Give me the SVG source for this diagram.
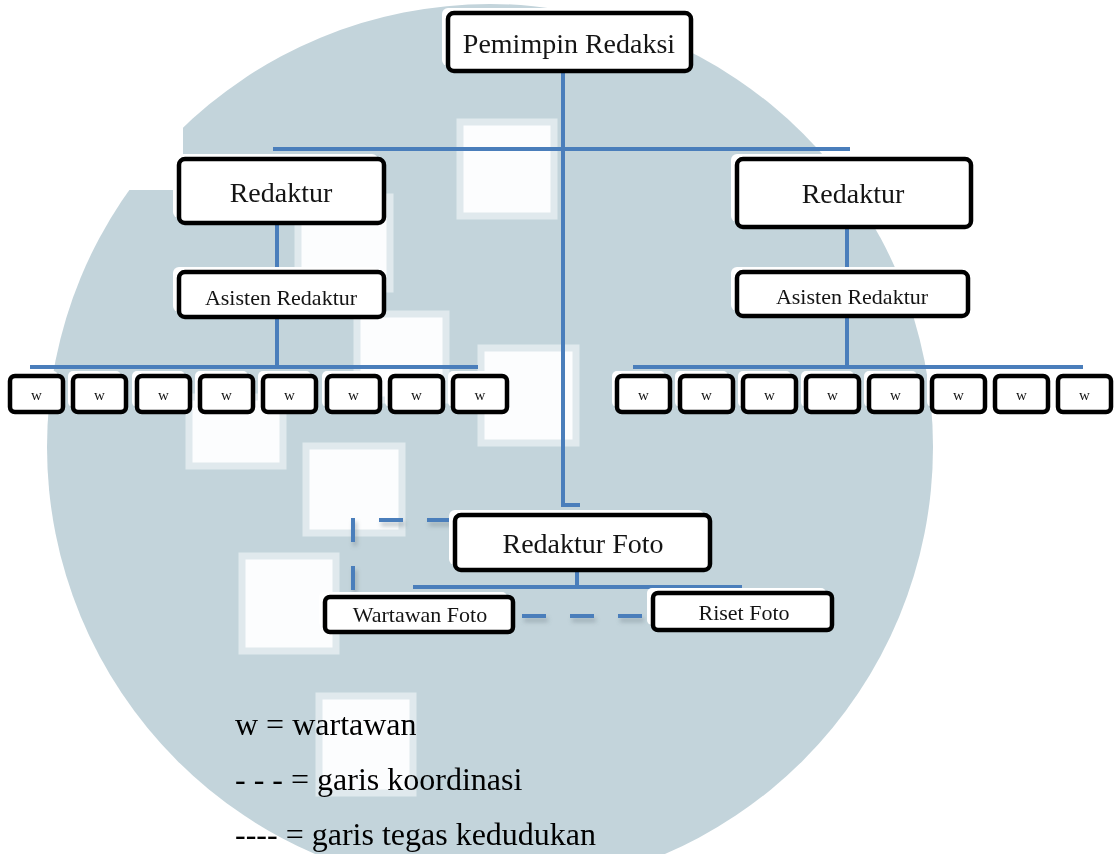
<svg xmlns="http://www.w3.org/2000/svg" width="1114" height="854" viewBox="0 0 1114 854">
<style>
.bg{fill:#c3d4db}
.sq{fill:#fcfdfe;stroke:#e0e9ed;stroke-width:7}
.conn{fill:none;stroke:#4a7ebb;stroke-width:4;stroke-linecap:butt}
.dash{fill:none;stroke:#4a7ebb;stroke-width:4;stroke-dasharray:24 24}
.dsh{fill:none;stroke:#6f7f88;stroke-width:4;stroke-dasharray:24 24;opacity:0.45}
.back{fill:#ffffff}
.box{fill:#ffffff;stroke:#000000;stroke-width:4.5}
.t{font-family:"Liberation Serif","Times New Roman",serif;fill:#141414;text-anchor:middle}
.big{font-size:28px}
.mid{font-size:22px}
.sm{font-size:15px}
.leg{font-family:"Liberation Serif","Times New Roman",serif;font-size:32px;fill:#000000}
</style>
<defs>
<filter id="blur" x="-20%" y="-20%" width="140%" height="140%"><feGaussianBlur stdDeviation="2"/></filter>
</defs>
<rect x="0" y="0" width="1114" height="854" fill="#ffffff"/>
<g id="watermark">
<circle class="bg" cx="490" cy="447" r="443"/>
<rect x="120" y="100" width="63" height="90" fill="#ffffff"/>
<rect class="sq" x="460" y="122" width="94" height="94"/>
<rect class="sq" x="298" y="197" width="92" height="92"/>
<rect class="sq" x="357" y="314" width="89" height="86"/>
<rect class="sq" x="481" y="348" width="95" height="95"/>
<rect class="sq" x="189" y="397" width="94" height="69"/>
<rect class="sq" x="306" y="446" width="96" height="87"/>
<rect class="sq" x="242" y="556" width="94" height="95"/>
<rect class="sq" x="319" y="696" width="94" height="97"/>
</g>
<g id="connectors">
<path class="conn" d="M 563 72 V 505 H 580"/>
<path class="conn" d="M 273 149 H 850"/>
<path class="conn" d="M 277 223 V 272 M 277 317 V 367 M 30 367 H 478"/>
<path class="conn" d="M 847 227 V 272 M 847 315 V 367 M 633 367 H 1083"/>
<path class="conn" d="M 577 570 V 587 M 413 587 H 742"/>
<g filter="url(#blur)">
<path class="dsh" d="M 453 524 H 355 V 598"/>
<path class="dsh" d="M 524 620 H 645"/>
</g>
<path class="dash" d="M 451 520 H 353 V 594"/>
<path class="dash" d="M 522 616 H 643"/>
</g>
<g id="pemimpin-redaksi">
<rect class="back" x="442" y="8" width="243" height="58" rx="6"/>
<rect class="box" x="448" y="13" width="243" height="58" rx="6"/>
<text class="t big" x="569" y="53">Pemimpin Redaksi</text>
</g>
<g id="redaktur-kiri">
<rect class="back" x="173" y="154" width="205" height="64" rx="6"/>
<rect class="box" x="179" y="159" width="205" height="64" rx="6"/>
<text class="t big" x="281" y="202">Redaktur</text>
</g>
<g id="asisten-kiri">
<rect class="back" x="173" y="267" width="205" height="45" rx="6"/>
<rect class="box" x="179" y="272" width="205" height="45" rx="6"/>
<text class="t mid" x="281" y="305">Asisten Redaktur</text>
</g>
<g id="redaktur-kanan">
<rect class="back" x="731" y="154" width="235" height="68" rx="6"/>
<rect class="box" x="737" y="159" width="234" height="68" rx="6"/>
<text class="t big" x="853" y="203">Redaktur</text>
</g>
<g id="asisten-kanan">
<rect class="back" x="731" y="267" width="231" height="44" rx="6"/>
<rect class="box" x="737" y="272" width="231" height="44" rx="6"/>
<text class="t mid" x="852" y="304">Asisten Redaktur</text>
</g>
<g id="wartawan-kiri">
<g id="wk1"><rect class="back" x="5" y="371" width="53" height="36" rx="5"/><rect class="box" x="10" y="376" width="53" height="36" rx="5"/><text class="t sm" x="36.5" y="400">w</text></g>
<g id="wk2"><rect class="back" x="68" y="371" width="53" height="36" rx="5"/><rect class="box" x="73" y="376" width="53" height="36" rx="5"/><text class="t sm" x="99.5" y="400">w</text></g>
<g id="wk3"><rect class="back" x="132" y="371" width="53" height="36" rx="5"/><rect class="box" x="137" y="376" width="53" height="36" rx="5"/><text class="t sm" x="163.5" y="400">w</text></g>
<g id="wk4"><rect class="back" x="195" y="371" width="53" height="36" rx="5"/><rect class="box" x="200" y="376" width="53" height="36" rx="5"/><text class="t sm" x="226.5" y="400">w</text></g>
<g id="wk5"><rect class="back" x="258" y="371" width="53" height="36" rx="5"/><rect class="box" x="263" y="376" width="53" height="36" rx="5"/><text class="t sm" x="289.5" y="400">w</text></g>
<g id="wk6"><rect class="back" x="322" y="371" width="53" height="36" rx="5"/><rect class="box" x="327" y="376" width="53" height="36" rx="5"/><text class="t sm" x="353.5" y="400">w</text></g>
<g id="wk7"><rect class="back" x="385" y="371" width="53" height="36" rx="5"/><rect class="box" x="390" y="376" width="53" height="36" rx="5"/><text class="t sm" x="416.5" y="400">w</text></g>
<g id="wk8"><rect class="back" x="448" y="371" width="53" height="36" rx="5"/><rect class="box" x="453" y="376" width="54" height="36" rx="5"/><text class="t sm" x="480" y="400">w</text></g>
</g>
<g id="wartawan-kanan">
<g id="wn1"><rect class="back" x="612" y="371" width="53" height="36" rx="5"/><rect class="box" x="617" y="376" width="53" height="36" rx="5"/><text class="t sm" x="643.5" y="400">w</text></g>
<g id="wn2"><rect class="back" x="675" y="371" width="53" height="36" rx="5"/><rect class="box" x="680" y="376" width="53" height="36" rx="5"/><text class="t sm" x="706.5" y="400">w</text></g>
<g id="wn3"><rect class="back" x="738" y="371" width="53" height="36" rx="5"/><rect class="box" x="743" y="376" width="53" height="36" rx="5"/><text class="t sm" x="769.5" y="400">w</text></g>
<g id="wn4"><rect class="back" x="801" y="371" width="53" height="36" rx="5"/><rect class="box" x="806" y="376" width="53" height="36" rx="5"/><text class="t sm" x="832.5" y="400">w</text></g>
<g id="wn5"><rect class="back" x="864" y="371" width="53" height="36" rx="5"/><rect class="box" x="869" y="376" width="53" height="36" rx="5"/><text class="t sm" x="895.5" y="400">w</text></g>
<g id="wn6"><rect class="back" x="927" y="371" width="53" height="36" rx="5"/><rect class="box" x="932" y="376" width="53" height="36" rx="5"/><text class="t sm" x="958.5" y="400">w</text></g>
<g id="wn7"><rect class="back" x="990" y="371" width="53" height="36" rx="5"/><rect class="box" x="995" y="376" width="53" height="36" rx="5"/><text class="t sm" x="1021.5" y="400">w</text></g>
<g id="wn8"><rect class="back" x="1053" y="371" width="53" height="36" rx="5"/><rect class="box" x="1058" y="376" width="53" height="36" rx="5"/><text class="t sm" x="1084.5" y="400">w</text></g>
</g>
<g id="redaktur-foto">
<rect class="back" x="449" y="510" width="255" height="55" rx="6"/>
<rect class="box" x="455" y="515" width="255" height="55" rx="6"/>
<text class="t big" x="583" y="553">Redaktur Foto</text>
</g>
<g id="wartawan-foto">
<rect class="back" x="319" y="592" width="188" height="35" rx="5"/>
<rect class="box" x="325" y="597" width="188" height="35" rx="5"/>
<text class="t mid" x="420" y="622">Wartawan Foto</text>
</g>
<g id="riset-foto">
<rect class="back" x="647" y="588" width="179" height="37" rx="5"/>
<rect class="box" x="653" y="593" width="179" height="37" rx="5"/>
<text class="t mid" x="744" y="620">Riset Foto</text>
</g>
<g id="legend">
<text class="leg" x="235" y="735">w = wartawan</text>
<text class="leg" x="235" y="790">- - - = garis koordinasi</text>
<text class="leg" x="235" y="845">---- = garis tegas kedudukan</text>
</g>
</svg>
